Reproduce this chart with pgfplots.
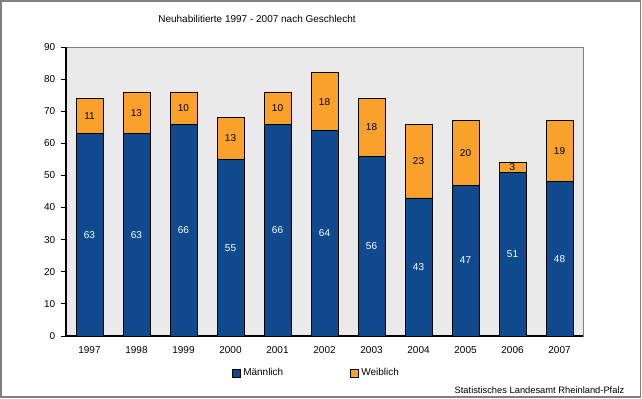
\documentclass[border=0pt]{standalone}
\usepackage{pgfplots}
\pgfplotsset{compat=1.18}
\usepackage{pgfplotstable}
\usepackage{fontspec}
\setmainfont{Liberation Sans}
\definecolor{mblue}{RGB}{16,74,142}
\definecolor{worange}{RGB}{249,161,43}
\definecolor{bgray}{RGB}{234,234,234}
\definecolor{frame}{RGB}{128,128,128}
\pgfplotstableread{
x m w
0 63 11
1 63 13
2 66 10
3 55 13
4 66 10
5 64 18
6 56 18
7 43 23
8 47 20
9 51 3
10 48 19
}\data
\begin{document}
\begin{tikzpicture}[x=0.75pt,y=0.75pt]
\useasboundingbox (0,0) rectangle (642,399);
\draw[frame, line width=1.1pt] (1,2) rectangle (640.5,398);
\node[font=\fontsize{7.5}{9}\selectfont] at (257,380) {Neuhabilitierte 1997 - 2007 nach Geschlecht};
\node[font=\fontsize{7}{8}\selectfont, anchor=east] at (629,9) {Statistisches Landesamt Rheinland-Pfalz};
\begin{axis}[
  at={(49.5pt,47.25pt)}, anchor=south west,
  scale only axis, width=387.75pt, height=216.75pt,
  ybar stacked, bar width=20.25pt,
  xmin=-0.5, xmax=10.5, ymin=0, ymax=90,
  ytick={0,10,...,90},
  xtick={0,...,10},
  xticklabels={1997,1998,1999,2000,2001,2002,2003,2004,2005,2006,2007},
  extra x ticks={-0.5,0.5,...,10.5},
  extra x tick labels={},
  extra x tick style={major tick length=4pt, tick style={black, line width=0.6pt}},
  axis x line*=bottom, axis y line*=left,
  axis line style={black, line width=0.8pt, -},
  x tick style={draw=none},
  y tick style={black, line width=0.6pt},
  major tick length=3.5pt,
  tick align=outside,
  axis background/.style={fill=bgray, draw=frame, line width=0.6pt},
  /pgf/number format/assume math mode=true,
  tick label style={font=\fontsize{7.5}{9}\selectfont},
  yticklabel style={xshift=-1pt},
  xticklabel style={yshift=-1pt},
  legend columns=2,
  legend style={draw=none, fill=none, at={(0.485,-0.128)}, anchor=center,
    font=\fontsize{7.5}{9}\selectfont,
    /tikz/every even column/.append style={column sep=48pt}},
  legend image code/.code={\draw[#1, line width=0.5pt, draw=black] (0pt,-3pt) rectangle (6pt,3pt);},
  nodes near coords,
  point meta=explicit,
]
\addplot[fill=mblue, draw=black, line width=0.6pt, every node near coord/.append style={anchor=center, font=\fontsize{7.5}{9}\selectfont, text=white}] table[x=x, y=m, meta=m] {\data};
\addlegendentry{Männlich}
\addplot[fill=worange, draw=black, line width=0.6pt, every node near coord/.append style={anchor=center, font=\fontsize{7.5}{9}\selectfont, text=black}] table[x=x, y=w, meta=w] {\data};
\addlegendentry{Weiblich}
\end{axis}
\end{tikzpicture}
\end{document}
